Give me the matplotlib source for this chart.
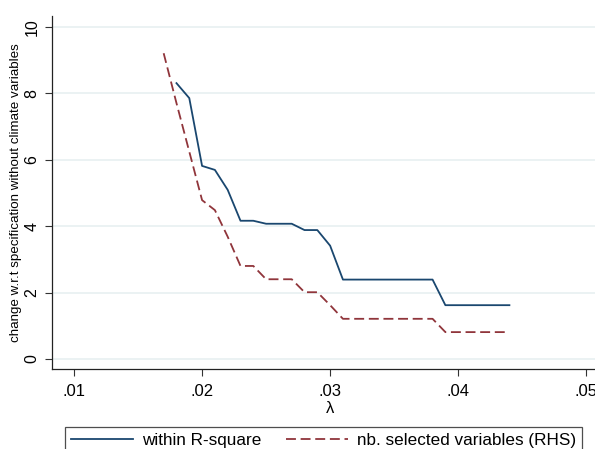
import matplotlib
matplotlib.use("Agg")
import matplotlib.pyplot as plt
from matplotlib.ticker import FixedLocator

plt.rcParams['font.family'] = ['Liberation Sans', 'DejaVu Sans']

# lambda grid and series
lam_r2 = [0.018, 0.019, 0.020, 0.021, 0.022, 0.023, 0.024, 0.025, 0.026, 0.027,
          0.028, 0.029, 0.030, 0.031, 0.032, 0.033, 0.034, 0.035, 0.036, 0.037,
          0.038, 0.039, 0.040, 0.041, 0.042, 0.043, 0.044]
within_r2 = [8.30, 7.85, 5.81, 5.69, 5.09, 4.16, 4.16, 4.07, 4.07, 4.07,
             3.88, 3.88, 3.41, 2.39, 2.39, 2.39, 2.39, 2.39, 2.39, 2.39,
             2.39, 1.62, 1.62, 1.62, 1.62, 1.62, 1.62]

lam_nb = [0.017] + lam_r2
nb_selected = [9.20, 7.70, 6.24, 4.78, 4.48, 3.68, 2.80, 2.80, 2.40, 2.40, 2.40,
               2.01, 2.01, 1.62, 1.21, 1.21, 1.21, 1.21, 1.21, 1.21, 1.21,
               1.21, 0.81, 0.81, 0.81, 0.81, 0.81, 0.81]

x_ticks = [0.01, 0.02, 0.03, 0.04, 0.05]
x_labels = ['.01', '.02', '.03', '.04', '.05']
y_ticks = [0, 2, 4, 6, 8, 10]

W, H = 595, 449
fig = plt.figure(figsize=(W / 100, H / 100), dpi=100)
# the original is cropped on the right, so the axes run past the figure edge
ax = fig.add_axes([52 / W, 1 - 369 / H, (608 - 52) / W, (369 - 16) / H])

ax.plot(lam_r2, within_r2, color='#1a476f', lw=1.3, label='within R-square')
ax.plot(lam_nb, nb_selected, color='#90353b', lw=1.3, linestyle=(0, (5.5, 2.6)),
        label='nb. selected variables (RHS)')

ax.set_xlim(0.00828, 0.0517)
ax.set_ylim(-0.30, 10.32)
ax.xaxis.set_major_locator(FixedLocator(x_ticks))
ax.set_xticklabels(x_labels, fontsize=12)
ax.set_yticks(y_ticks)
ax.set_yticklabels([str(v) for v in y_ticks], fontsize=11.5, rotation=90, va='center')
ax.tick_params(axis='both', length=5, width=0.8, color='#333333')
ax.tick_params(axis='x', pad=6)
ax.tick_params(axis='y', pad=4)

for s in ['top', 'right']:
    ax.spines[s].set_visible(False)
for s in ['left', 'bottom']:
    ax.spines[s].set_linewidth(0.9)
    ax.spines[s].set_color('#222222')

ax.grid(axis='y', color='#e8f0f1', lw=1.2)
ax.set_axisbelow(True)

ax.set_xlabel('λ', fontsize=12, labelpad=1)
ax.set_ylabel('change w.r.t specification without climate variables', fontsize=9.6)
ax.yaxis.set_label_coords((16 - 52) / (608 - 52), 0.5)
ax.yaxis.label.set_va('center')

leg = fig.legend(loc='upper left', ncol=2,
                 bbox_to_anchor=(65 / W, 1 - 427 / H),
                 borderaxespad=0, fontsize=12.3, handlelength=3.6, handletextpad=0.53,
                 columnspacing=1.46, frameon=True, fancybox=False, borderpad=0.37)
leg.get_frame().set_edgecolor('#222222')
leg.get_frame().set_linewidth(0.9)

fig.savefig('out.png', dpi=100)
